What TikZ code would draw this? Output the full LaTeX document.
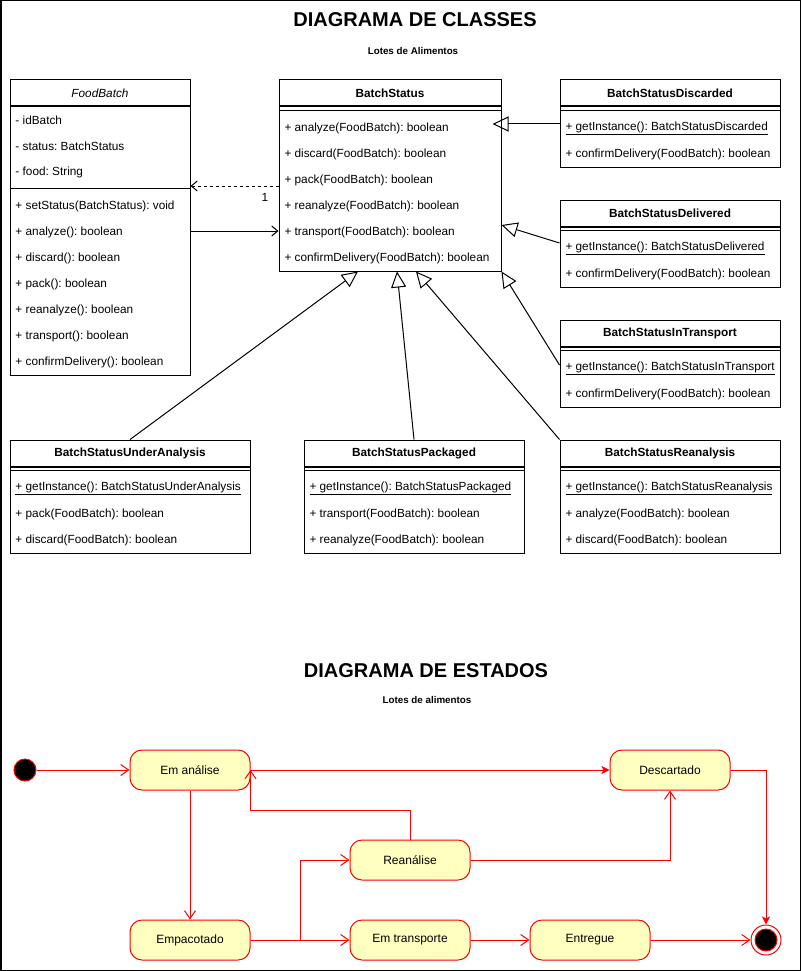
\documentclass[tikz,border=0pt]{standalone}
\usepackage{fontspec}
\setmainfont{Liberation Sans}
\frenchspacing
\usetikzlibrary{positioning,arrows.meta}
\definecolor{statefill}{HTML}{FFFFC0}
\tikzset{
  classhead/.style={draw,minimum height=26pt,inner sep=0pt,font=\fontsize{11.8}{14}\selectfont\bfseries},
  classbody/.style={draw,inner sep=0pt},
  member/.style={anchor=west,inner sep=0pt,yshift=-1.5pt,font=\fontsize{11.8}{14}\selectfont},
  inherit/.style={-{Triangle[open,length=16pt,width=15pt]}},
  assoc/.style={-{Straight Barb[length=6pt,width=10pt]}},
  depend/.style={assoc,dash pattern=on 3pt off 3pt},
  statebox/.style={draw=red,fill=statefill,rounded corners=12pt,minimum width=120pt,minimum height=40pt,font=\fontsize{12}{14}\selectfont},
  initstate/.style={circle,draw=red,fill=black,minimum size=22pt,inner sep=0pt},
  trans/.style={red,-{Straight Barb[length=8pt,width=11pt]}},
  transfill/.style={red,-{Stealth[length=8pt,width=8pt,inset=2pt]}},
  diagtitle/.style={font=\fontsize{20}{24}\selectfont\bfseries},
  subtitle/.style={font=\fontsize{9.8}{12}\selectfont\bfseries}
}

\begin{document}
\begin{tikzpicture}[x=1pt,y=-1pt,line width=1pt]

% Frame
\useasboundingbox (0,0) rectangle (801,971);
\draw[line width=1.5pt] (0.75,0.75) rectangle (800.25,970.25);

% Class diagram titles
\node[diagtitle] (title1) at (415,20) {DIAGRAMA DE CLASSES};
\node[subtitle] (sub1) at (413,51) {Lotes de Alimentos};

% FoodBatch
\node[classhead,minimum width=180pt] (fb) at (100,93) {\mdseries\itshape FoodBatch};
\node[classbody,minimum width=180pt,minimum height=268pt,below=0pt of fb] (fbbody) {};
\node[member] (fba1) at (15,119) {- idBatch};
\node[member] (fba2) at (15,145) {- status: BatchStatus};
\node[member] (fba3) at (15,171) {- food: String};
\draw (fbbody.west |- 0,188) -- (fbbody.east |- 0,188);
\node[member] (fbm1) at (15,205) {+ setStatus(BatchStatus): void};
\node[member] (fbm2) at (15,231) {+ analyze(): boolean};
\node[member] (fbm3) at (15,257) {+ discard(): boolean};
\node[member] (fbm4) at (15,283) {+ pack(): boolean};
\node[member] (fbm5) at (15,309) {+ reanalyze(): boolean};
\node[member] (fbm6) at (15,335) {+ transport(): boolean};
\node[member] (fbm7) at (15,361) {+ confirmDelivery(): boolean};

% BatchStatus
\node[classhead,minimum width=222pt] (bs) at (390,93) {BatchStatus};
\node[classbody,minimum width=222pt,minimum height=164pt,below=0pt of bs] (bsbody) {};
\draw ([yshift=-4pt]bs.south west) -- ([yshift=-4pt]bs.south east);
\node[member] (bsm1) at (284,127) {+ analyze(FoodBatch): boolean};
\node[member] (bsm2) at (284,153) {+ discard(FoodBatch): boolean};
\node[member] (bsm3) at (284,179) {+ pack(FoodBatch): boolean};
\node[member] (bsm4) at (284,205) {+ reanalyze(FoodBatch): boolean};
\node[member] (bsm5) at (284,231) {+ transport(FoodBatch): boolean};
\node[member] (bsm6) at (284,257) {+ confirmDelivery(FoodBatch): boolean};

% Concrete states on the right
\node[classhead,minimum width=220pt] (ds) at (670,93) {BatchStatusDiscarded};
\node[classbody,minimum width=220pt,minimum height=60pt,below=0pt of ds] (dsbody) {};
\draw ([yshift=-4pt]ds.south west) -- ([yshift=-4pt]ds.south east);
\node[member] (dsm1) at (565,127) {\underline{+ getInstance(): BatchStatusDiscarded}};
\node[member] (dsm2) at (565,153) {+ confirmDelivery(FoodBatch): boolean};

\node[classhead,minimum width=220pt] (dl) at (670,213) {BatchStatusDelivered};
\node[classbody,minimum width=220pt,minimum height=60pt,below=0pt of dl] (dlbody) {};
\draw ([yshift=-4pt]dl.south west) -- ([yshift=-4pt]dl.south east);
\node[member] (dlm1) at (565,247) {\underline{+ getInstance(): BatchStatusDelivered}};
\node[member] (dlm2) at (565,273) {+ confirmDelivery(FoodBatch): boolean};

\node[classhead,minimum width=220pt] (it) at (670,333) {BatchStatusInTransport};
\node[classbody,minimum width=220pt,minimum height=60pt,below=0pt of it] (itbody) {};
\draw ([yshift=-4pt]it.south west) -- ([yshift=-4pt]it.south east);
\node[member] (itm1) at (565,367) {\underline{+ getInstance(): BatchStatusInTransport}};
\node[member] (itm2) at (565,393) {+ confirmDelivery(FoodBatch): boolean};

% Concrete states at the bottom
\node[classhead,minimum width=240pt] (ua) at (130,453) {BatchStatusUnderAnalysis};
\node[classbody,minimum width=240pt,minimum height=86pt,below=0pt of ua] (uabody) {};
\draw ([yshift=-4pt]ua.south west) -- ([yshift=-4pt]ua.south east);
\node[member] (uam1) at (15,487) {\underline{+ getInstance(): BatchStatusUnderAnalysis}};
\node[member] (uam2) at (15,513) {+ pack(FoodBatch): boolean};
\node[member] (uam3) at (15,539) {+ discard(FoodBatch): boolean};

\node[classhead,minimum width=220pt] (pk) at (414,453) {BatchStatusPackaged};
\node[classbody,minimum width=220pt,minimum height=86pt,below=0pt of pk] (pkbody) {};
\draw ([yshift=-4pt]pk.south west) -- ([yshift=-4pt]pk.south east);
\node[member] (pkm1) at (309,487) {\underline{+ getInstance(): BatchStatusPackaged}};
\node[member] (pkm2) at (309,513) {+ transport(FoodBatch): boolean};
\node[member] (pkm3) at (309,539) {+ reanalyze(FoodBatch): boolean};

\node[classhead,minimum width=220pt] (rn) at (670,453) {BatchStatusReanalysis};
\node[classbody,minimum width=220pt,minimum height=86pt,below=0pt of rn] (rnbody) {};
\draw ([yshift=-4pt]rn.south west) -- ([yshift=-4pt]rn.south east);
\node[member] (rnm1) at (565,487) {\underline{+ getInstance(): BatchStatusReanalysis}};
\node[member] (rnm2) at (565,513) {+ analyze(FoodBatch): boolean};
\node[member] (rnm3) at (565,539) {+ discard(FoodBatch): boolean};

% Association and dependency
\draw[depend] (bsbody.west |- 0,186) -- (fbbody.east |- 0,186);
\node[member,anchor=center] (mult) at (265,196) {1};
\draw[assoc] (fbbody.east |- 0,231) -- (bsbody.west |- 0,231);

% Generalizations
\draw[inherit,shorten >=-9pt] (dsbody.west |- 0,124) -- (bsbody.east |- 0,124);
\draw[inherit] (dlbody.west |- 0,243) -- (bsbody.east |- 0,225);
\draw[inherit] (itbody.west |- 0,365) -- (bsbody.south east);
\draw[inherit] (ua.north) -- ([xshift=-32pt]bsbody.south);
\draw[inherit] (pk.north) -- ([xshift=7pt]bsbody.south);
\draw[inherit] (rn.north west) -- ([xshift=26pt]bsbody.south);

% State diagram titles
\node[diagtitle] (title2) at (426,671) {DIAGRAMA DE ESTADOS};
\node[subtitle] (sub2) at (427,700) {Lotes de alimentos};

% States
\node[initstate] (init) at (25,770) {};
\node[statebox] (anal) at (190,770) {Em análise};
\node[statebox] (desc) at (670,770) {Descartado};
\node[statebox] (rean) at (410,860) {Reanálise};
\node[statebox] (emp) at (190,940) {Empacotado};
\node[statebox] (trsp) at (410,940) {Em transporte};
\node[statebox] (entr) at (590,940) {Entregue};
\node[circle,draw=red,minimum size=30pt,inner sep=0pt] (final) at (766,940) {};
\node[initstate] (finalin) at (final) {};

% Transitions
\draw[trans] (init) -- (anal);
\draw[transfill] (anal) -- (desc);
\draw[trans] (anal) -- (emp);
\draw[trans] (rean.north) |- (anal.east |- 0,810) -- (anal.east);
\draw[trans] (rean.east) -| (desc.south);
\draw[trans] (emp) -- (trsp);
\draw[trans] (emp.east) -- ++(50,0) |- (rean.west);
\draw[trans] (trsp) -- (entr);
\draw[trans] (entr) -- (final);
\draw[transfill] (desc.east) -| (final.north);

\end{tikzpicture}
\end{document}
